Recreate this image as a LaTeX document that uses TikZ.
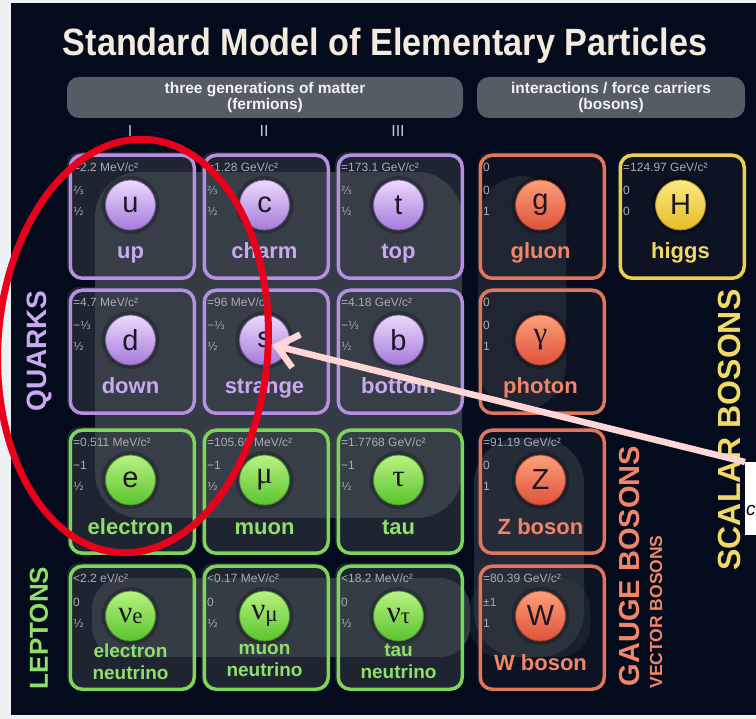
\documentclass[tikz,border=0pt]{standalone}
\usepackage{fontspec}
\setmainfont{Liberation Sans}
\newfontfamily\titlefont[FakeStretch=0.9]{Liberation Sans}
\newfontfamily\dvfont[Scale=0.92]{DejaVu Sans}
\newfontfamily\serifgk{Liberation Serif}
\usetikzlibrary{arrows.meta,shapes.geometric}
\definecolor{bgnavy}{HTML}{030B1D}
\definecolor{marginc}{HTML}{EEF1F4}
\definecolor{graybl}{HTML}{3B414A}
\definecolor{fcell}{HTML}{1F2530}
\definecolor{bcell}{HTML}{0D1322}
\definecolor{hdrgray}{HTML}{545C66}
\definecolor{qborder}{HTML}{B48FE2}
\definecolor{qname}{HTML}{C9A9F0}
\definecolor{qlight}{HTML}{EDDAFD}
\definecolor{qdark}{HTML}{A47ADB}
\definecolor{lborder}{HTML}{7DD65A}
\definecolor{lname}{HTML}{8FE06A}
\definecolor{llight}{HTML}{B8F282}
\definecolor{ldark}{HTML}{5AC42E}
\definecolor{gborder}{HTML}{E2765C}
\definecolor{gname}{HTML}{F08568}
\definecolor{glight}{HTML}{FBA07A}
\definecolor{gdark}{HTML}{E0523A}
\definecolor{hborder}{HTML}{EDCF4F}
\definecolor{hname}{HTML}{F2D864}
\definecolor{hlight}{HTML}{FCE982}
\definecolor{hdark}{HTML}{E6BC28}
\definecolor{masstext}{HTML}{A9ADB5}
\definecolor{symtext}{HTML}{1E1526}
\definecolor{redmark}{HTML}{E8001C}
\definecolor{pinkarrow}{HTML}{FFD5D5}
\definecolor{titlec}{HTML}{F4EBDF}
\definecolor{romanc}{HTML}{C3C7CC}
\newcommand\fr[1]{{\dvfont #1}}
\newcommand\gk[1]{{\serifgk\fontsize{31}{31}\selectfont #1}}
\newcommand\gsub[1]{{\serifgk\fontsize{23}{23}\selectfont\raisebox{-1.5pt}{#1}}}
\newcommand\pcell[8]{%
  \node[cellbox, draw=#4border] (#1) at (#2,#3) {};
  \fill[black, opacity=0.22] ({#2+63.5},{#3+53}) circle (29pt);
  \node[ball, top color=#4light, bottom color=#4dark, draw=#4dark!75!black] (#1c) at ({#2+63.5},{#3+53}) {#5};
  \node[masst] (#1m) at ({#2+6},{#3+20}) {#6};
  \node[masst] (#1q) at ({#2+6},{#3+43}) {#7};
  \node[masst] (#1s) at ({#2+6},{#3+64}) {#8};
}
\begin{document}
\begin{tikzpicture}[x=1pt,y=-1pt,
  cellbox/.style={rectangle, rounded corners=12pt, line width=3.5pt, minimum width=124pt, minimum height=123pt, anchor=north west, inner sep=0, xshift=1.5pt, yshift=-1.5pt},
  ball/.style={circle, minimum size=50pt, inner sep=0, line width=0.8pt, text=symtext, font=\fontsize{29}{29}\selectfont},
  masst/.style={anchor=base west, inner sep=0, text=masstext, font=\fontsize{12}{12}\selectfont},
  pname/.style={anchor=base, inner sep=0, font=\bfseries\fontsize{22}{22}\selectfont},
  pname2/.style={anchor=north, inner sep=0, align=center, font=\bfseries\fontsize{19}{22}\selectfont},
  hdr/.style={rectangle, rounded corners=12pt, fill=hdrgray, text=white!90!gray, minimum height=41pt, inner sep=0, align=center, font=\bfseries\fontsize{15.5}{16}\selectfont},
  sidelab/.style={rotate=90, inner sep=0, font=\bfseries},
  roman/.style={inner sep=0, text=romanc, font=\fontsize{16}{16}\selectfont}]
\useasboundingbox (0,0) rectangle (756,719);
\fill[marginc] (0,0) rectangle (756,719);
\fill[bgnavy] (11,3) rectangle (756,715);
% cell backgrounds
\foreach \cx in {67,201,335} \foreach \cy in {152,287,427,563}
  \fill[fcell, rounded corners=12pt] (\cx,\cy) rectangle ++(127,126);
\foreach \cx/\cy in {477/152,477/287,477/427,477/563,617/152}
  \fill[bcell, rounded corners=12pt] (\cx,\cy) rectangle ++(127,126);
% decorative grey regions
\fill[graybl, opacity=0.9, rounded corners=45pt] (95,172) rectangle (462,518);
\fill[graybl, opacity=0.4, rounded corners=45pt] (478,176) rectangle (566,410);
\fill[graybl, opacity=0.55, rounded corners=45pt] (474,438) rectangle (584,657);
\fill[graybl, opacity=0.85, rounded corners=30pt] (92,578) rectangle (470,657);
\fill[graybl, opacity=0.3, rounded corners=30pt] (470,578) rectangle (590,657);
% title and headers
\node[anchor=base, inner sep=0, text=titlec, font=\titlefont\bfseries\fontsize{38}{38}\selectfont] (title) at (385,56) {Standard Model of Elementary Particles};
\node[hdr, minimum width=396pt] (hf) at (265,97.5) {three generations of matter\\(fermions)};
\node[hdr, minimum width=268pt] (hb) at (611,97.5) {interactions / force carriers\\(bosons)};
\node[roman] (gI) at (130,131) {I};
\node[roman] (gII) at (264,131) {II};
\node[roman] (gIII) at (398,131) {III};
% cells
\pcell{u}{67}{152}{q}{u}{=2.2 MeV/c²}{\fr{⅔}}{\fr{½}}
\pcell{c}{201}{152}{q}{c}{=1.28 GeV/c²}{\fr{⅔}}{\fr{½}}
\pcell{t}{335}{152}{q}{t}{=173.1 GeV/c²}{\fr{⅔}}{\fr{½}}
\pcell{g}{477}{152}{g}{g}{0}{0}{1}
\pcell{H}{617}{152}{h}{H}{=124.97 GeV/c²}{0}{0}
\pcell{d}{67}{287}{q}{d}{=4.7 MeV/c²}{−\fr{⅓}}{\fr{½}}
\pcell{s}{201}{287}{q}{s}{=96 MeV/c²}{−\fr{⅓}}{\fr{½}}
\pcell{b}{335}{287}{q}{b}{=4.18 GeV/c²}{−\fr{⅓}}{\fr{½}}
\pcell{gam}{477}{287}{g}{\gk{γ}}{0}{0}{1}
\pcell{e}{67}{427}{l}{e}{=0.511 MeV/c²}{−1}{\fr{½}}
\pcell{mu}{201}{427}{l}{\gk{μ}}{=105.66 MeV/c²}{−1}{\fr{½}}
\pcell{tau}{335}{427}{l}{\gk{τ}}{=1.7768 GeV/c²}{−1}{\fr{½}}
\pcell{Z}{477}{427}{g}{Z}{=91.19 GeV/c²}{0}{1}
\pcell{ve}{67}{563}{l}{\gk{ν}\gsub{e}}{<2.2 eV/c²}{0}{\fr{½}}
\pcell{vmu}{201}{563}{l}{\gk{ν}\gsub{μ}}{<0.17 MeV/c²}{0}{\fr{½}}
\pcell{vtau}{335}{563}{l}{\gk{ν}\gsub{τ}}{<18.2 MeV/c²}{0}{\fr{½}}
\pcell{W}{477}{563}{g}{W}{=80.39 GeV/c²}{±1}{1}
% names
\node[pname, text=qname] (un) at (130.5,259) {up};
\node[pname, text=qname] (cn) at (264.5,259) {charm};
\node[pname, text=qname] (tn) at (398.5,259) {top};
\node[pname, text=gname] (gn) at (540.5,259) {gluon};
\node[pname, text=hname] (Hn) at (680.5,259) {higgs};
\node[pname, text=qname] (dn) at (130.5,394) {down};
\node[pname, text=qname] (sn) at (264.5,394) {strange};
\node[pname, text=qname] (bn) at (398.5,394) {bottom};
\node[pname, text=gname] (gamn) at (540.5,394) {photon};
\node[pname, text=lname] (en) at (130.5,535) {electron};
\node[pname, text=lname] (mun) at (264.5,535) {muon};
\node[pname, text=lname] (taun) at (398.5,535) {tau};
\node[pname, text=gname] (Zn) at (540.5,535) {Z boson};
\node[pname2, text=lname] (ven) at (130.5,644) {electron\\neutrino};
\node[pname2, text=lname] (vmun) at (264.5,644) {muon\\neutrino};
\node[pname2, text=lname] (vtaun) at (398.5,644) {tau\\neutrino};
\node[pname, text=gname] (Wn) at (540.5,670) {W boson};
% side labels
\node[sidelab, text=qname, font=\bfseries\fontsize{28}{28}\selectfont] (qlab) at (39,351) {QUARKS};
\node[sidelab, text=lname, font=\bfseries\fontsize{26}{26}\selectfont] (llab) at (39,628) {LEPTONS};
\node[sidelab, text=gname, font=\bfseries\fontsize{29}{29}\selectfont] (gblab) at (630,566) {GAUGE BOSONS};
\node[sidelab, text=gname, font=\bfseries\fontsize{17.5}{17.5}\selectfont] (vblab) at (656,612) {VECTOR BOSONS};
\node[sidelab, text=hname, font=\bfseries\fontsize{32}{32}\selectfont] (sblab) at (729,430) {SCALAR BOSONS};
% annotation
\node[draw=redmark, line width=7pt, ellipse, minimum width=270pt, minimum height=414pt, inner sep=0, rotate=-4] (mark) at (133,346) {};
\node[fill=white, anchor=north west, minimum width=30pt, minimum height=73pt, inner sep=0] (lbl) at (745,462) {};
\node[anchor=base west, inner sep=0, font=\itshape\fontsize{19}{19}\selectfont] (lblc) at (746,515) {c};
\coordinate (tip) at (272,345);
\draw[pinkarrow, line width=6.5pt, -{Straight Barb[length=20pt,width=34pt]}] (lbl.north west) -- (tip);
\end{tikzpicture}
\end{document}
